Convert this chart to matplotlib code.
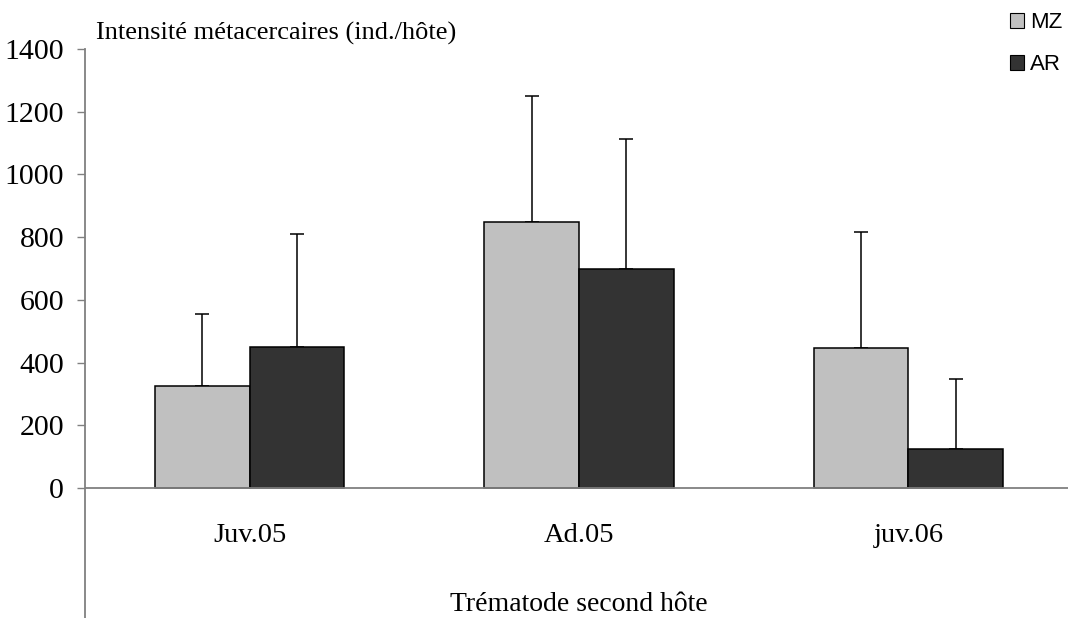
import matplotlib
matplotlib.use("Agg")
import matplotlib.pyplot as plt
from matplotlib.patches import Patch
import numpy as np

categories = ["Juv.05", "Ad.05", "juv.06"]
mz_values = [326, 849, 445]
ar_values = [449, 700, 125]
mz_err = [230, 401, 372]
ar_err = [362, 412, 224]
yticks = [0, 200, 400, 600, 800, 1000, 1200, 1400]

W, H = 1068, 618
fig = plt.figure(figsize=(W / 100, H / 100), dpi=100)
y0_px, ytop_px = 488, 49
scale = (y0_px - ytop_px) / 1400.0
ymin = -(H - y0_px) / scale
ax = fig.add_axes([85 / W, 0, (1073 - 85) / W, (H - ytop_px) / H])
ax.set_xlim(-0.5, 2.5)
ax.set_ylim(ymin, 1400)

x = np.arange(len(categories))
bw = 0.287
serif = "Liberation Serif"
ax.bar(x - bw / 2, mz_values, bw, color="#C0C0C0", edgecolor="black", linewidth=1.1, zorder=3)
ax.bar(x + bw / 2, ar_values, bw, color="#333333", edgecolor="black", linewidth=1.1, zorder=3)
ax.errorbar(x - bw / 2, mz_values, yerr=[np.zeros(3), mz_err], fmt="none", ecolor="black",
            elinewidth=1.1, capsize=5, capthick=1.1, zorder=2)
ax.errorbar(x + bw / 2, ar_values, yerr=[np.zeros(3), ar_err], fmt="none", ecolor="black",
            elinewidth=1.1, capsize=5, capthick=1.1, zorder=2)

ax.axhline(0, color="#808080", linewidth=1.3, zorder=4)
for s in ["top", "right", "bottom"]:
    ax.spines[s].set_visible(False)
ax.spines["left"].set_color("#808080")
ax.spines["left"].set_linewidth(1.3)
ax.spines["left"].set_bounds(ymin, 1400)
ax.set_yticks(yticks)
ax.set_yticklabels([str(t) for t in yticks], fontfamily=serif, fontsize=21.5)
ax.tick_params(axis="y", direction="out", length=6, width=1, color="#808080", pad=9)
ax.set_xticks([])

for xi, c in zip(x, categories):
    ax.text(xi, -150, c, ha="center", va="center", fontfamily=serif, fontsize=20.5)
ax.text(1.0, -370, "Trématode second hôte", ha="center", va="center", fontfamily=serif, fontsize=20)
fig.text(96 / W, 1 - 33 / H, "Intensité métacercaires (ind./hôte)", ha="left", va="center",
         fontfamily=serif, fontsize=19)

handles = [Patch(facecolor="#C0C0C0", edgecolor="black", linewidth=0.8, label="MZ"),
           Patch(facecolor="#333333", edgecolor="black", linewidth=0.8, label="AR")]
fig.legend(handles=handles, loc="upper left", bbox_to_anchor=(990 / W, 1 + 8 / H),
           frameon=False, handlelength=0.65, handleheight=0.65, handletextpad=0.25,
           labelspacing=0.95, prop={"family": "Liberation Sans", "size": 16})

fig.savefig("out.png", dpi=100)
